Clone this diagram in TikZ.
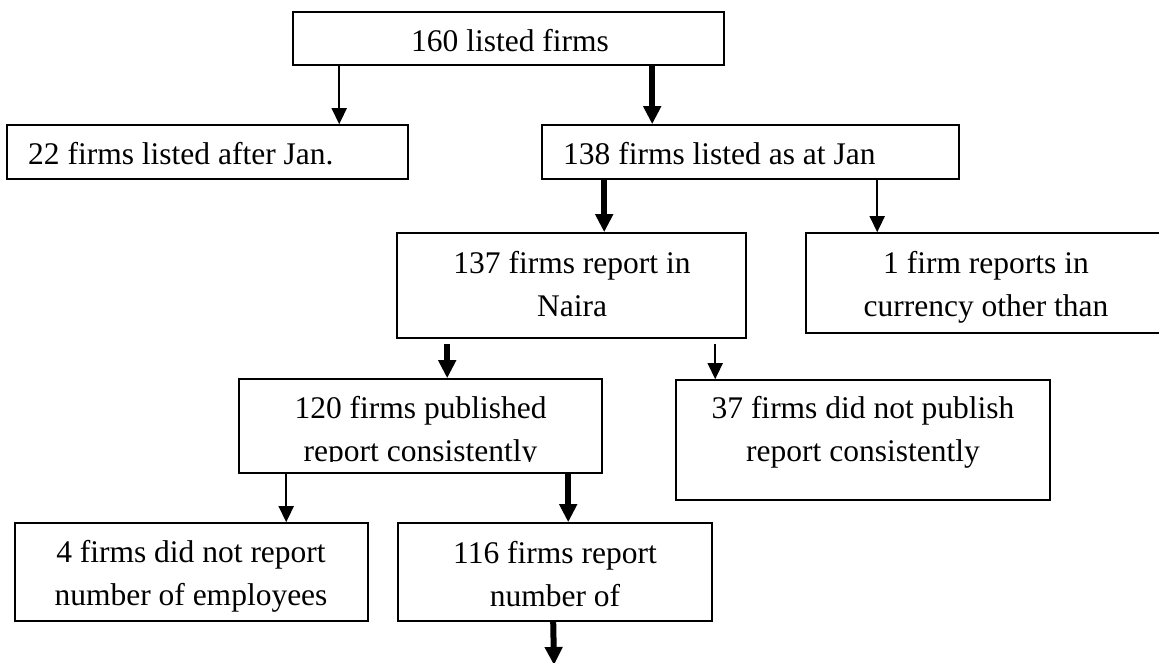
\documentclass[tikz,border=0pt]{standalone}
\usepackage{fontspec}
\setmainfont{Liberation Serif}
\usetikzlibrary{arrows.meta}
\begin{document}
\begin{tikzpicture}[x=1pt,y=-1pt,
  box/.style={draw,line width=1.6pt,inner sep=0pt,rectangle},
  txt/.style={inner sep=0pt,align=center,font=\fontsize{31.5}{42.5}\selectfont},
  thinarrow/.style={line width=1.7pt,-{Triangle[length=16pt,width=15pt]}},
  thickarrow/.style={line width=6pt,-{Triangle[length=18pt,width=17pt]}}]
\useasboundingbox[fill=white] (0,0) rectangle (1159,663);
% boxes
\node[box,minimum width=431pt,minimum height=53pt] (b1) at (508.5,38.5) {};
\node[box,minimum width=401pt,minimum height=54pt] (b2) at (207.5,152) {};
\node[box,minimum width=417pt,minimum height=54pt] (b3) at (750.5,152) {};
\node[box,minimum width=349pt,minimum height=105pt] (b4) at (571.5,285.5) {};
\node[box,minimum width=360pt,minimum height=100pt] (b5) at (986,283) {};
\node[box,minimum width=363pt,minimum height=94pt] (b6) at (420.5,426) {};
\node[box,minimum width=374pt,minimum height=120pt] (b7) at (863,440) {};
\node[box,minimum width=353pt,minimum height=98pt] (b8) at (191.5,572) {};
\node[box,minimum width=314pt,minimum height=98pt] (b9) at (555,572) {};
% texts
\node[txt,anchor=base] (t1) at (510,52) {160 listed firms};
\node[txt,anchor=base west] (t2) at (28,165) {22 firms listed after Jan.};
\node[txt,anchor=base west] (t3) at (563,165) {138 firms listed as at Jan};
\node[txt,anchor=north] (t4) at (572,251.3) {137 firms report in\\Naira};
\node[txt,anchor=north] (t5) at (986,251.3) {1 firm reports in\\currency other than};
\begin{scope}
\clip (239,379) rectangle (602,461);
\node[txt,anchor=north] (t6) at (420.5,396.3) {120 firms published\\report consistently};
\end{scope}
\node[txt,anchor=north] (t7) at (863,396.3) {37 firms did not publish\\report consistently};
\node[txt,anchor=north] (t8) at (191,540.3) {4 firms did not report\\number of employees};
\node[txt,anchor=north] (t9) at (555,541.3) {116 firms report\\number of};
\coordinate (end) at (554,665);
% arrows
\draw[thinarrow] ([xshift=47pt]b1.south west) -- ([xshift=333pt]b2.north west);
\draw[thickarrow] ([xshift=360pt]b1.south west) -- ([xshift=111pt]b3.north west);
\draw[thickarrow] ([xshift=63pt]b3.south west) -- ([xshift=208pt]b4.north west);
\draw[thinarrow] ([xshift=336pt]b3.south west) -- ([xshift=72pt]b5.north west);
\draw[thickarrow] ([xshift=51pt,yshift=-5pt]b4.south west) -- ([xshift=209pt]b6.north west);
\draw[thinarrow] ([xshift=319pt,yshift=-5pt]b4.south west) -- ([xshift=40pt]b7.north west);
\draw[thinarrow] ([xshift=48pt]b6.south west) -- ([xshift=272pt]b8.north west);
\draw[thickarrow] ([xshift=330pt]b6.south west) -- ([xshift=171pt]b9.north west);
\draw[thickarrow] ([xshift=156pt]b9.south west) -- (end);
\end{tikzpicture}
\end{document}
